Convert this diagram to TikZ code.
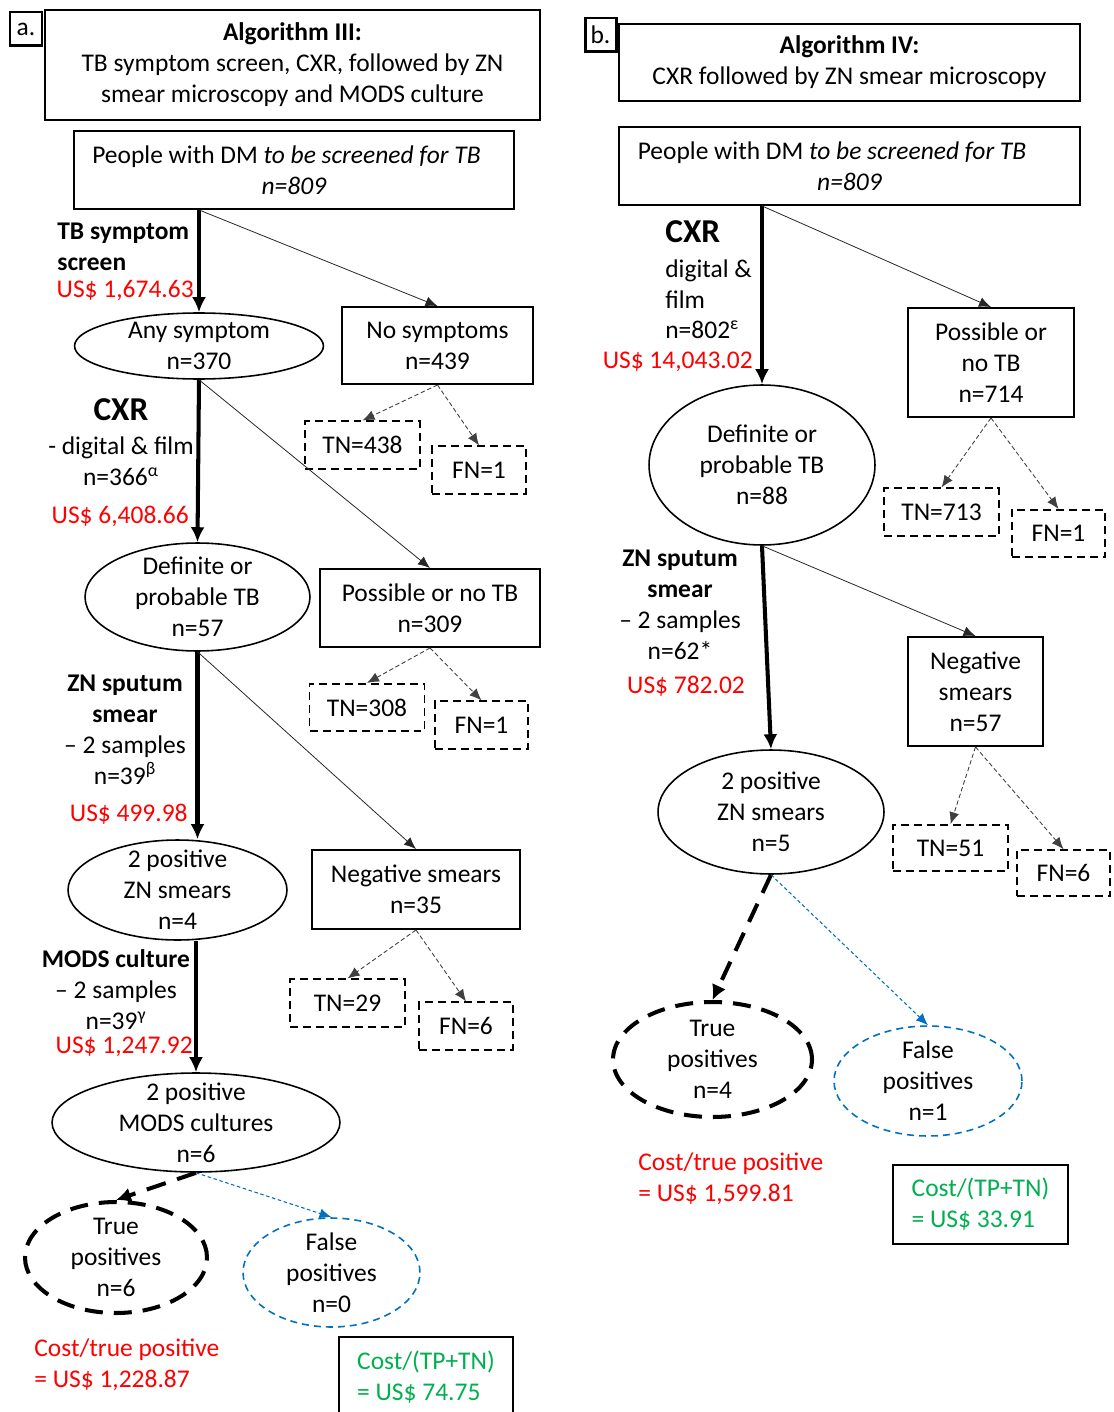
\documentclass[tikz,border=0pt]{standalone}
\usepackage{fontspec}
\setmainfont{Carlito}
\usetikzlibrary{arrows.meta,shapes.geometric}
\definecolor{costred}{RGB}{255,0,0}
\definecolor{costgreen}{RGB}{0,176,80}
\definecolor{fpblue}{RGB}{0,112,192}
\newcommand{\bigcxr}{\fontsize{19}{22}\selectfont\bfseries}
\begin{document}
\begin{tikzpicture}[x=0.02cm, y=-0.02cm,
  font=\fontsize{14.5}{17.6}\selectfont,
  tagbox/.style={draw, line width=1.7pt, inner sep=0pt, minimum width=0.64cm, minimum height=0.68cm},
  box/.style={draw, line width=1.1pt, align=center, inner sep=2pt},
  oval/.style={draw, ellipse, line width=0.9pt, align=center, inner xsep=0pt, inner ysep=-12pt},
  tnbox/.style={draw, line width=0.9pt, dash pattern=on 0.16cm off 0.1cm, minimum width=2.3cm, minimum height=0.95cm},
  fnbox/.style={tnbox, minimum width=1.87cm},
  tpoval/.style={oval, line width=2.3pt, dash pattern=on 0.36cm off 0.22cm},
  fpoval/.style={oval, fpblue, text=black, line width=0.9pt, dash pattern=on 0.14cm off 0.1cm},
  greenbox/.style={box, text=costgreen, align=left},
  lbl/.style={inner sep=0pt, align=center},
  cost/.style={inner sep=0pt, text=costred, align=left},
  mainarrow/.style={line width=2.3pt, -{Latex[length=0.3cm, width=0.28cm]}},
  sidearrow/.style={line width=0.45pt, black!85, -{Latex[length=0.24cm, width=0.2cm]}},
  dasharrow/.style={line width=0.5pt, black!75, dash pattern=on 2.5pt off 1.5pt, -{Latex[length=0.24cm, width=0.2cm]}},
  tparrow/.style={line width=2.3pt, dash pattern=on 0.4cm off 0.24cm, -{Latex[length=0.3cm, width=0.3cm]}},
  fparrow/.style={line width=0.6pt, fpblue, dash pattern=on 2pt off 1.5pt, -{Latex[length=0.24cm, width=0.2cm]}}]
  \def\W{1113}
  \def\H{1412}

  \useasboundingbox (0,0) rectangle (\W,\H);
  \clip (0,0) rectangle (\W,\H);
  \fill[white] (0,0) rectangle (\W,\H);

  % panel a
  \node[tagbox] (taga) at (26,29) {a.};
  \node[box, minimum width=9.9cm, minimum height=2.2cm] (title1) at (292.5,65)
    {\textbf{Algorithm III:}\\TB symptom screen, CXR, followed by ZN\\smear microscopy and MODS culture};
  \node[box, minimum width=8.8cm, minimum height=1.56cm] (ppl1) at (294,170)
    {People with DM \textit{to be screened for TB}\hspace*{0.3cm}\\\textit{n=809}};
  \node[oval, minimum width=4.98cm, minimum height=1.32cm] (any1) at (199,346) {Any symptom\\n=370};
  \node[box, minimum width=3.82cm, minimum height=1.54cm] (nosym1) at (437.5,345.5) {No symptoms\\n=439};
  \node[tnbox] (tn1a) at (362.5,445) {TN=438};
  \node[fnbox] (fn1a) at (479,470) {FN=1};
  \node[oval, minimum width=4.5cm, minimum height=2.16cm] (def1) at (197.5,597) {Definite or\\probable TB\\n=57};
  \node[box, minimum width=4.4cm, minimum height=1.56cm] (poss1) at (430,608) {Possible or no TB\\n=309};
  \node[tnbox] (tn1b) at (367,707.5) {TN=308};
  \node[fnbox] (fn1b) at (481.5,725) {FN=1};
  \node[oval, minimum width=4.38cm, minimum height=2cm] (zn1) at (177.5,890) {2 positive\\ZN smears\\n=4};
  \node[box, minimum width=4.16cm, minimum height=1.58cm] (neg1) at (416,889.5) {Negative smears\\n=35};
  \node[tnbox] (tn1c) at (347.5,1003) {TN=29};
  \node[fnbox] (fn1c) at (466,1026) {FN=6};
  \node[oval, minimum width=5.76cm, minimum height=1.98cm] (mods1) at (196,1122.5) {2 positive\\MODS cultures\\n=6};
  \node[tpoval, minimum width=3.64cm, minimum height=2.22cm] (tp1) at (116,1257.5) {True\\positives\\n=6};
  \node[fpoval, minimum width=3.54cm, minimum height=2.18cm] (fp1) at (331.5,1272.5) {False\\positives\\n=0};
  \node[greenbox, minimum width=3.48cm, minimum height=1.6cm] (green1) at (426,1377) {Cost/(TP+TN)\\= US\$ 74.75};
  \node[cost, anchor=west] (cost1) at (34,1364.5) {Cost/true positive\\= US\$ 1,228.87};

  % labels a
  \node[lbl, anchor=west, align=left, font=\fontsize{14.5}{17.6}\selectfont\bfseries] (lblsym1) at (57,246.5) {TB symptom\\screen};
  \node[cost, anchor=east] (costsym1) at (194,291) {US\$ 1,674.63};
  \node[lbl] (lblcxr1) at (121,442) {{\bigcxr CXR}\\[2pt]- digital \& film\\n=366\textsuperscript{α}};
  \node[cost, anchor=east] (costcxr1) at (189,516) {US\$ 6,408.66};
  \node[lbl] (lblzn1) at (125,729.5) {\textbf{ZN sputum}\\\textbf{smear}\\– 2 samples\\n=39\textsuperscript{β}};
  \node[cost, anchor=east] (costzn1) at (188,814) {US\$ 499.98};
  \node[lbl] (lblmods1) at (116,989.5) {\textbf{MODS culture}\\– 2 samples\\n=39\textsuperscript{γ}};
  \node[cost, anchor=east] (costmods1) at (193,1047) {US\$ 1,247.92};

  % arrows a
  \draw[mainarrow] (ppl1.south -| any1.north) -- (any1.north);
  \draw[sidearrow] (ppl1.south -| any1.north) -- (nosym1.north);
  \draw[dasharrow] (nosym1.south) -- (tn1a.north);
  \draw[dasharrow] (nosym1.south) -- (fn1a.north);
  \draw[mainarrow] (any1.south) -- (def1.north);
  \draw[sidearrow] (any1.south) -- (poss1.north);
  \draw[dasharrow] (poss1.south) -- (tn1b.north);
  \draw[dasharrow] (poss1.south) -- (fn1b.north);
  \draw[mainarrow] (def1.south) -- (def1.south |- zn1.north);
  \draw[sidearrow] (def1.south) -- (neg1.north);
  \draw[dasharrow] (neg1.south) -- (tn1c.north);
  \draw[dasharrow] (neg1.south) -- (fn1c.north);
  \draw[mainarrow] (zn1.south -| mods1.north) -- (mods1.north);
  \draw[tparrow] (mods1.south) -- (tp1.north);
  \draw[fparrow] (mods1.south) -- (fp1.north);

  % panel b
  \node[tagbox, minimum width=0.62cm] (tagb) at (600.5,35) {b.};
  \node[box, minimum width=9.22cm, minimum height=1.54cm] (title2) at (849.5,62.5)
    {\textbf{Algorithm IV:}\\CXR followed by ZN smear microscopy};
  \node[box, minimum width=9.22cm, minimum height=1.56cm] (ppl2) at (849.5,166)
    {People with DM \textit{to be screened for TB}\hspace*{0.7cm}\\\textit{n=809}};
  \node[oval, minimum width=4.52cm, minimum height=3.2cm] (def2) at (762,465) {Definite or\\probable TB\\n=88};
  \node[box, minimum width=3.32cm, minimum height=2.18cm] (poss2) at (991,362.5) {Possible or\\no TB\\n=714};
  \node[tnbox] (tn2a) at (941.5,512) {TN=713};
  \node[fnbox] (fn2a) at (1058.5,533.5) {FN=1};
  \node[oval, minimum width=4.52cm, minimum height=2.48cm] (zn2) at (771,812) {2 positive\\ZN smears\\n=5};
  \node[box, minimum width=2.7cm, minimum height=2.18cm] (neg2) at (975.5,691.5) {Negative\\smears\\n=57};
  \node[tnbox, minimum height=0.92cm] (tn2b) at (950.5,848) {TN=51};
  \node[fnbox, minimum height=0.92cm] (fn2b) at (1063.5,873) {FN=6};
  \node[tpoval, minimum width=3.98cm, minimum height=2.3cm] (tp2) at (712.5,1059.5) {True\\positives\\n=4};
  \node[fpoval, minimum width=3.76cm, minimum height=2.2cm] (fp2) at (928,1081) {False\\positives\\n=1};
  \node[greenbox, minimum width=3.5cm, minimum height=1.58cm] (green2) at (980.5,1204.5) {Cost/(TP+TN)\\= US\$ 33.91};
  \node[cost, anchor=west] (cost2) at (638,1178.5) {Cost/true positive\\= US\$ 1,599.81};

  % labels b
  \node[lbl, anchor=west, align=left] (lblcxr2) at (665,280) {{\bigcxr CXR}\\[2pt]digital \&\\film\\n=802\textsuperscript{ε}};
  \node[cost, anchor=east] (costcxr2) at (753,362) {US\$ 14,043.02};
  \node[lbl] (lblzn2) at (680,604.5) {\textbf{ZN sputum}\\\textbf{smear}\\– 2 samples\\n=62*};
  \node[cost] (costzn2) at (686,686) {US\$ 782.02};

  % arrows b
  \draw[mainarrow] (ppl2.south -| def2.north) -- (def2.north);
  \draw[sidearrow] (ppl2.south -| def2.north) -- (poss2.north);
  \draw[dasharrow] (poss2.south) -- (tn2a.north);
  \draw[dasharrow] (poss2.south) -- (fn2a.north);
  \draw[mainarrow] (def2.south) -- (zn2.north);
  \draw[sidearrow] (def2.south) -- (neg2.north);
  \draw[dasharrow] (neg2.south) -- (tn2b.north);
  \draw[dasharrow] (neg2.south) -- (fn2b.north);
  \draw[tparrow] (zn2.south) -- (tp2.north);
  \draw[fparrow] (zn2.south) -- (fp2.north);
\end{tikzpicture}
\end{document}
